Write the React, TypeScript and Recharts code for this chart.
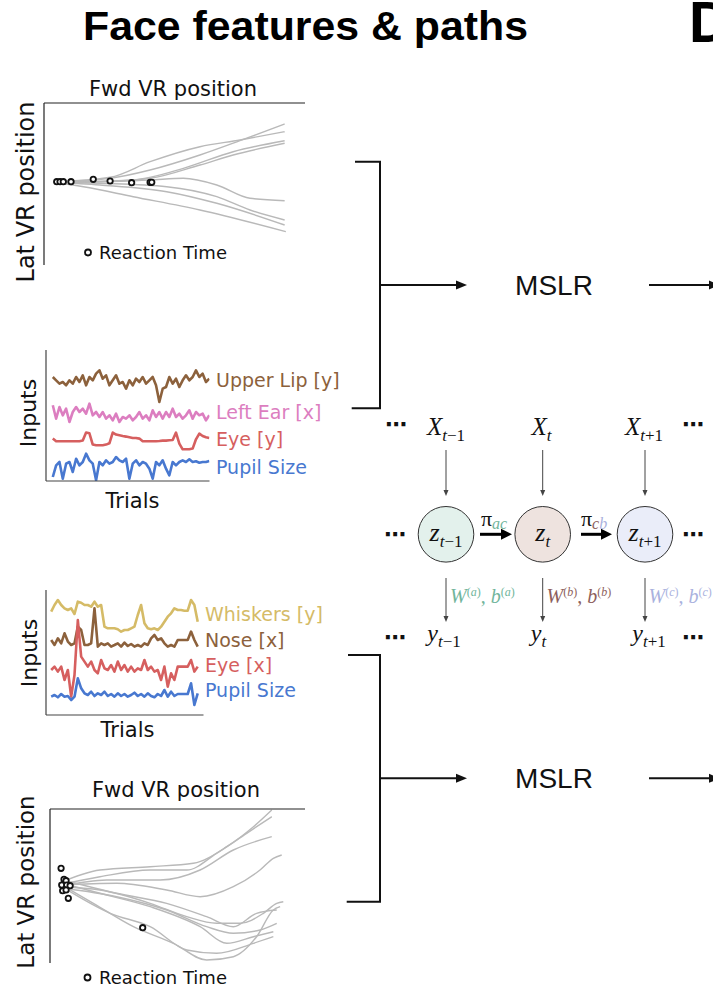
import React from "react";
import { ComposedChart, LineChart, Line, Scatter, XAxis, YAxis } from "recharts";

// ---- top path plot: fwd position (0-100) vs lateral offset ----
const topPath1 = [[0, 0], [24.4, 3.7], [41.5, 12], [62.8, 27], [79.9, 41.3], [99, 58]];
const topPath2 = [[0, 0], [24.4, 4.7], [41.5, 20.3], [62.8, 35.3], [79.9, 42], [99, 50.3]];
const topPath3 = [[0, 0], [20, 0.5], [34.3, 2], [55.7, 13.7], [77, 30.3], [99, 41.3]];
const topPath4 = [[0, 0], [20, 0.5], [41.5, 3.7], [62.8, 17], [77, 27], [99, 38.7]];
const topPath5 = [[0, 0], [20, 0.3], [41.5, 2], [55.7, 3.7], [70, -3], [84.2, -16.3], [99, -18.7]];
const topPath6 = [[0, 0], [20.1, -1.3], [48.6, -4.7], [70, -14.7], [84.2, -28], [99, -38]];
const topPath7 = [[0, 0], [20.1, -3], [48.6, -9.7], [70, -21.3], [99, -43]];
const topPath8 = [[0, 0], [13, -4.7], [34.3, -14.7], [62.8, -28], [99.5, -49.7]];
const topRtX = [1.6, 3.0, 4.4, 7.7, 17.2, 24.4, 33.6, 41.5, 42.2];
const topRtY = [0.3, 0.3, 0.3, 0.3, 2.7, 1, -0.7, -0.3, -0.3];

// ---- bottom path plot ----
const botPath1 = [[0.6, 1.7], [19, 15], [41.2, 18.3], [60.3, 21.7], [75.1, 38.3], [86.9, 58.3], [95, 75]];
const botPath2 = [[0.6, 0], [19, 8.3], [41.2, 15], [57.4, 15], [70.6, 31.7], [83.9, 51.7], [95, 68.3]];
const botPath3 = [[1.3, -1.7], [22, 5], [45.6, 5], [63.3, 15], [78, 35], [95, 48.3]];
const botPath4 = [[1.3, 0], [26.4, 1.7], [48.5, -5], [63.3, -11.7], [78, -1.7], [89.8, 15], [95.7, 26.7], [99.4, 30]];
const botPath5 = [[2.1, -1.7], [19, -5], [41.2, -18.3], [57.4, -31.7], [70.6, -38.3], [81, -38.3], [91.3, -28.3], [97.2, -18.3], [100.1, -16.7]];
const botPath6 = [[2.8, -3.3], [26.4, -11.7], [48.5, -25], [66.2, -41.7], [78, -48.3], [89.8, -45], [97.2, -38.3]];
const botPath7 = [[2.1, 1.7], [19, -8.3], [41.2, -21.7], [63.3, -41.7], [75.1, -58.3], [86.9, -51.7], [95.7, -46.7]];
const botPath8 = [[2.1, 0], [16.1, -18.3], [33.8, -41.7], [51.5, -58.3], [66.2, -75], [78, -71.7], [88.3, -51.7], [95.7, -25], [98.7, -21.7]];
const botPath9 = [[2.1, -1.7], [23.5, -28.3], [41.2, -41.7], [57.4, -65], [70.6, -68.3], [86.9, -58.3], [95.7, -51.7]];
const botPath10 = [[2.8, 5], [26.4, -8.3], [48.5, -18.3], [66.2, -31.7], [78, -41.7], [88.3, -28.3], [97.2, -25]];
const botRtX = [1.8, 3.1, 4.0, 2.1, 4.3, 5.8, 2.5, 4.0, 5.0, 37.9];
const botRtY = [16.7, 5.7, 4.3, 0, 0, -0.7, -5.7, -5, -13.3, -42.7];

// ---- top input traces (a.u.) ----
const upperLipY = [5, 1.7, -1.7, 0, -3.3, 1.7, -1.7, 5, 0, 6.7, -3.3, 5, 1.7, 8.3, 11.7, 3.3, 6.7, -3.3, 1.7, 6.7, -1.7, 0, -6.7, 1.7, -3.3, 3.3, 0, 5, -1.7, 1.7, 5, -3.3, -20, -6.7, -5, 5, -1.7, 3.3, -5, 1.7, 6.7, 1.7, 5, 11.7, 5, 8.3, 0, 3.3];
const leftEarX = [6.7, -6.7, 5, -3.3, 3.3, -10, 0, 5, 0, 3.3, -1.7, 8.3, -3.3, 0, -5, 0, -6.7, -3.3, -8.3, -1.7, -10, -5, -6.7, -3.3, -8.3, -5, 0, -6.7, -3.3, -8.3, 1.7, -5, 0, -6.7, 0, -5, 3.3, -5, -1.7, -6.7, -3.3, 1.7, -6.7, 0, -3.3, -1.7, -8.3, -3.3];
const eyeY = [2.7, 0, 0, 0, 0, 0, 0, 0, 0, 0.7, 8.7, 8, -3.3, -4, -4, -4, -3.3, -2, 8.7, 6.7, 6, 5.3, 4.7, 4, 3.3, 3.3, 2.7, 0, 0, 0, 0, 0, 0.3, 0.7, 0.7, 1, 1.3, 8.7, -2.3, -8, -8, -8, -7.3, 2, 7.7, 5.3, 4, 3.3];
const pupilTop = [-15, -3.3, 0, -16.7, -1.7, 0, -10, 3.3, -3.3, 0, 8.3, 1.7, -1.7, -18.3, 0, -3.3, 1.7, -1.7, 0, 5, 1.7, 0, 3.3, -16.7, -1.7, 1.7, -3.3, 0, -1.7, -6.7, -16.7, 0, -3.3, 1.7, -6.7, -13.3, 0, -3.3, 0, 1.7, 0, 2.7, 0, 0.7, -0.7, 0, 0, 1];

// ---- bottom input traces (a.u.) ----
const whiskersY = [3.3, 10, 15, 10, 6.7, 5, 6.7, 1, 13.3, 12.3, 10, 10, 8.3, 13.3, 8.3, 10, -11.7, -13.3, -13.3, -13.3, -14.3, -16.7, -15, -15, -13.3, -11.7, 0, 10, -8.3, -13.3, -14.3, -13.3, -15, -11.7, -6.7, -1.7, 1.7, 6.7, 5, 5, 4.3, 4.3, 15, 10, -6.7];
const noseX = [3.3, -1.7, 5, 0, 10, 1.7, -1.7, 0, 16.7, 13.3, -1.7, -1.7, 0, 35, -3.3, 0, -1.7, 0, -3.3, -1.7, 0, -3.3, 0.7, -2.7, -0.7, -3.3, -1.7, -3.3, 0, -1.7, 5, 8.3, 3.3, 5, 0, -3.3, -1.7, -3.3, 3.3, 3.3, 3.3, 3.3, 11.7, 3.3, -3.3];
const eyeX = [-1.7, 1.7, -3.3, 1.7, -11.7, -1.7, -28.3, -6.7, 48.3, 11.7, 6.7, 1.7, 6.7, -1.7, -5, 8.3, 0, -1.7, 3.3, -3.3, 6.7, -1.7, 3.3, -3.3, 1.7, -3.3, 0, -1.7, 8.3, -1.7, 1.7, -3.3, -1.7, -11.7, 1.7, -18.3, -5, -11.7, 1.7, 1.7, 1.7, 1.7, 8.3, -3.3, 1.7];
const pupilBottom = [-0.7, 1, -1.3, 2, -0.7, 0, -4, -0.7, 17.7, 7.7, 2.7, 1, 4.3, 0, 2.7, 1, 4.3, 0, 2, -0.7, 2.7, 0, 2, -0.7, 1, 3.3, 0, 2, -0.7, 2.7, 0, -1.3, 2, 0, 6, -0.7, 4.3, 0, 2, 2, 2, 2, 12.7, -9, 2.7];

const topInputNames = ["Upper Lip [y]", "Left Ear [x]", "Eye [y]", "Pupil Size"];
const botInputNames = ["Whiskers [y]", "Nose [x]", "Eye [x]", "Pupil Size"];

const BROWN = "#8c613c";
const PINK = "#dc7ec0";
const RED = "#d65f5f";
const BLUE = "#4878d0";
const YELLOW = "#d5bb67";
const SANS = "DejaVu Sans, Verdana, sans-serif";
const SERIF = "Liberation Serif, Times New Roman, serif";
const TEAL = "#72b59c";
const MAUVE = "#8e5f5c";
const LAV = "#aab2de";
const PAD = 4;

type Box = { left: number; top: number; w: number; h: number };

function PathPlot({ paths, rtX, rtY, box, xDomain, yDomain }: { paths: number[][][]; rtX: number[]; rtY: number[]; box: Box; xDomain: number[]; yDomain: number[] }) {
    const rt = rtX.map((x, i) => ({ x, y: rtY[i] }));
    const axis = { stroke: "#222", strokeWidth: 1.2 };
    return (
        <div style={{ position: "absolute", left: box.left - PAD, top: box.top - PAD }}>
            <ComposedChart width={box.w + 2 * PAD} height={box.h + 2 * PAD} margin={{ top: PAD - 1, right: PAD, bottom: PAD, left: PAD - 1 }}>
                <XAxis type="number" dataKey="x" orientation="top" domain={xDomain} allowDataOverflow tick={false} tickLine={false} height={1} axisLine={axis} />
                <YAxis type="number" dataKey="y" domain={yDomain} allowDataOverflow tick={false} tickLine={false} width={1} axisLine={axis} />
                {paths.map((p, i) => (
                    <Line key={i} data={p.map(([x, y]) => ({ x, y }))} dataKey="y" type="monotone" stroke="#b9b9b9" strokeWidth={1.4} dot={false} isAnimationActive={false} />
                ))}
                <Scatter
                    data={rt}
                    isAnimationActive={false}
                    shape={(props: any) => <circle cx={props.cx} cy={props.cy} r={2.7} fill="#fff" stroke="#111" strokeWidth={1.8} />}
                />
            </ComposedChart>
        </div>
    );
}

function InputPlot({ traces, box, xDomain, yDomain }: { traces: { values: number[]; offset: number; color: string }[]; box: Box; xDomain: number[]; yDomain: number[] }) {
    // stack traces with their vertical offsets
    const rows = traces[0].values.map((_, i) => {
        const row: Record<string, number> = { i };
        traces.forEach((t, k) => (row["s" + k] = t.values[i] + t.offset));
        return row;
    });
    const axis = { stroke: "#444", strokeWidth: 1.2 };
    return (
        <div style={{ position: "absolute", left: box.left - PAD, top: box.top - PAD }}>
            <LineChart width={box.w + 2 * PAD} height={box.h + 2 * PAD} data={rows} margin={{ top: PAD, right: PAD, bottom: PAD - 1, left: PAD - 1 }}>
                <XAxis type="number" dataKey="i" domain={xDomain} allowDataOverflow tick={false} tickLine={false} height={1} axisLine={axis} />
                <YAxis type="number" domain={yDomain} allowDataOverflow tick={false} tickLine={false} width={1} axisLine={axis} />
                {traces.map((t, k) => (
                    <Line key={k} dataKey={"s" + k} type="linear" stroke={t.color} strokeWidth={2.6} strokeLinejoin="round" dot={false} isAnimationActive={false} />
                ))}
            </LineChart>
        </div>
    );
}

function Bracket({ top, bottom, x, x0, x1, arrowY }: { top: number; bottom: number; x: number; x0: number; x1: number; arrowY: number }) {
    return (
        <g stroke="#111" fill="none" strokeWidth={2}>
            <path d={`M${x0},${top} H${x} V${bottom} H${x1}`} />
            <line x1={x} y1={arrowY} x2={460} y2={arrowY} />
            <polygon points={`467,${arrowY} 456,${arrowY - 4.5} 456,${arrowY + 4.5}`} fill="#111" stroke="none" />
            <line x1={649} y1={arrowY} x2={712} y2={arrowY} />
            <polygon points={`720,${arrowY} 709,${arrowY - 4.5} 709,${arrowY + 4.5}`} fill="#111" stroke="none" />
            <text x={554} y={arrowY + 10} textAnchor="middle" fontFamily="Liberation Sans, Arial, sans-serif" fontSize={28} fill="#111" stroke="none">MSLR</text>
        </g>
    );
}

function Dots({ x, y }: { x: number; y: number }) {
    return <text x={x} y={y + 7} textAnchor="middle" fontFamily={SANS} fontWeight={700} fontSize={22} fill="#111">⋯</text>;
}

function Sub({ x, y, base, sub, size, subSize }: { x: number; y: number; base: string; sub: string; size: number; subSize: number }) {
    const rest = sub.slice(1).replace("-", "−");
    return (
        <text x={x} y={y} textAnchor="middle" fontFamily={SERIF} fontSize={size} fill="#111">
            <tspan fontStyle="italic">{base}</tspan>
            <tspan dy={subSize * 0.33} fontSize={subSize} fontStyle="italic">{sub[0]}</tspan>
            {rest && <tspan fontSize={subSize}>{rest}</tspan>}
        </text>
    );
}

function WLabel({ x, y, s, color }: { x: number; y: number; s: string; color: string }) {
    return (
        <text x={x} y={y} fontFamily={SERIF} fontSize={20} fill={color}>
            <tspan fontStyle="italic">W</tspan>
            <tspan dy={-7} fontSize={12}>(</tspan>
            <tspan fontSize={12} fontStyle="italic">{s}</tspan>
            <tspan fontSize={12}>)</tspan>
            <tspan dy={7} fontSize={20}>, </tspan>
            <tspan fontStyle="italic" fontSize={20}>b</tspan>
            <tspan dy={-7} fontSize={12}>(</tspan>
            <tspan fontSize={12} fontStyle="italic">{s}</tspan>
            <tspan fontSize={12}>)</tspan>
        </text>
    );
}

export default function App() {
    const topTraces = [
        { values: upperLipY, offset: 99, color: BROWN },
        { values: leftEarX, offset: 69, color: PINK },
        { values: eyeY, offset: 39.7, color: RED },
        { values: pupilTop, offset: 19, color: BLUE },
    ];
    const botTraces = [
        { values: whiskersY, offset: 100, color: YELLOW },
        { values: noseX, offset: 71.7, color: BROWN },
        { values: eyeX, offset: 46.7, color: RED },
        { values: pupilBottom, offset: 19, color: BLUE },
    ];
    const topColors = [BROWN, PINK, RED, BLUE];
    const botColors = [YELLOW, BROWN, RED, BLUE];
    const topLabelY = [387, 419, 445.5, 474];
    const botLabelY = [620.5, 647, 672, 697];
    const colX = [446, 542.7, 645];

    return (
        <div style={{ position: "absolute", left: 0, top: 0, width: 713, height: 986, overflow: "hidden", background: "#fff" }}>
            <PathPlot
                paths={[topPath1, topPath2, topPath3, topPath4, topPath5, topPath6, topPath7, topPath8]}
                rtX={topRtX}
                rtY={topRtY}
                box={{ left: 44, top: 103, w: 261, h: 162 }}
                xDomain={[-3.85, 107.7]}
                yDomain={[-83, 79]}
            />
            <PathPlot
                paths={[botPath1, botPath2, botPath3, botPath4, botPath5, botPath6, botPath7, botPath8, botPath9, botPath10]}
                rtX={botRtX}
                rtY={botRtY}
                box={{ left: 50, top: 809, w: 255, h: 154 }}
                xDomain={[-3.1, 109.7]}
                yDomain={[-78, 76]}
            />
            <InputPlot traces={topTraces} box={{ left: 45.5, top: 350, w: 163.5, h: 131 }} xDomain={[-2.04, 47.06]} yDomain={[0, 131]} />
            <InputPlot traces={botTraces} box={{ left: 45.5, top: 590, w: 157.5, h: 125 }} xDomain={[-1.56, 45.74]} yDomain={[0, 125]} />

            <svg width={713} height={986} style={{ position: "absolute", left: 0, top: 0, pointerEvents: "none" }}>
                <text x={83} y={40} fontFamily="Liberation Sans, Arial, sans-serif" fontWeight={700} fontSize={40} textLength={445} lengthAdjust="spacingAndGlyphs" fill="#000">
                    {"Face features & paths"}
                </text>
                <text x={689} y={42} fontFamily="Liberation Sans, Arial, sans-serif" fontWeight={700} fontSize={57} fill="#000">D</text>

                {/* path plot labels */}
                <text x={173} y={96} textAnchor="middle" fontFamily={SANS} fontSize={21} fill="#111">Fwd VR position</text>
                <text transform="translate(34,192) rotate(-90)" textAnchor="middle" fontFamily={SANS} fontSize={24} fill="#111">Lat VR position</text>
                <circle cx={88} cy={252.5} r={3} fill="#fff" stroke="#111" strokeWidth={1.8} />
                <text x={99} y={258.5} fontFamily={SANS} fontSize={18} fill="#111">Reaction Time</text>

                <text x={176} y={797} textAnchor="middle" fontFamily={SANS} fontSize={21} fill="#111">Fwd VR position</text>
                <text transform="translate(34,882) rotate(-90)" textAnchor="middle" fontFamily={SANS} fontSize={23} fill="#111">Lat VR position</text>
                <circle cx={87.5} cy={977.5} r={3} fill="#fff" stroke="#111" strokeWidth={1.8} />
                <text x={99} y={983.5} fontFamily={SANS} fontSize={18} fill="#111">Reaction Time</text>

                {/* input plot labels */}
                <text transform="translate(36,413) rotate(-90)" textAnchor="middle" fontFamily={SANS} fontSize={22} fill="#111">Inputs</text>
                <text x={132.5} y={508} textAnchor="middle" fontFamily={SANS} fontSize={21} fill="#111">Trials</text>
                {topInputNames.map((n, i) => (
                    <text key={n} x={216} y={topLabelY[i]} fontFamily={SANS} fontSize={19} fill={topColors[i]}>{n}</text>
                ))}
                <text transform="translate(37,653) rotate(-90)" textAnchor="middle" fontFamily={SANS} fontSize={22} fill="#111">Inputs</text>
                <text x={127.5} y={737} textAnchor="middle" fontFamily={SANS} fontSize={21} fill="#111">Trials</text>
                {botInputNames.map((n, i) => (
                    <text key={n} x={205} y={botLabelY[i]} fontFamily={SANS} fontSize={19} fill={botColors[i]}>{n}</text>
                ))}

                {/* MSLR brackets */}
                <Bracket top={161.7} bottom={408.3} x={380} x0={355} x1={351.7} arrowY={285} />
                <Bracket top={655} bottom={901.7} x={380} x0={348} x1={346.7} arrowY={778.3} />

                {/* graphical model */}
                <Dots x={396} y={425} />
                <Dots x={693} y={425} />
                <Sub x={446} y={435} base="X" sub="t-1" size={25} subSize={17} />
                <Sub x={541.5} y={435} base="X" sub="t" size={25} subSize={17} />
                <Sub x={644} y={435} base="X" sub="t+1" size={25} subSize={17} />
                {colX.map((x) => (
                    <g key={"in" + x}>
                        <line x1={x} y1={450} x2={x} y2={492} stroke="#444" strokeWidth={1} />
                        <polygon points={`${x},${496} ${x - 2.5},${490} ${x + 2.5},${490}`} fill="#444" />
                        <line x1={x} y1={578} x2={x} y2={618} stroke="#444" strokeWidth={1} />
                        <polygon points={`${x},${622} ${x - 2.5},${616} ${x + 2.5},${616}`} fill="#444" />
                    </g>
                ))}
                <Dots x={395} y={535} />
                <Dots x={693} y={535} />
                <circle cx={446} cy={534.3} r={27.8} fill="#e3f1ec" stroke="#333" strokeWidth={1} />
                <circle cx={542.7} cy={534.3} r={27.8} fill="#eee3df" stroke="#333" strokeWidth={1} />
                <circle cx={645} cy={534.3} r={27.8} fill="#eaedf9" stroke="#333" strokeWidth={1} />
                <Sub x={446} y={541} base="z" sub="t-1" size={26} subSize={17} />
                <Sub x={542.7} y={541} base="z" sub="t" size={26} subSize={17} />
                <Sub x={645} y={541} base="z" sub="t+1" size={26} subSize={17} />
                <line x1={480} y1={534.3} x2={503} y2={534.3} stroke="#000" strokeWidth={3} />
                <polygon points="512,534.3 501,528.8 501,539.8" fill="#000" />
                <line x1={581} y1={534.3} x2={603} y2={534.3} stroke="#000" strokeWidth={3} />
                <polygon points="612,534.3 601,528.8 601,539.8" fill="#000" />
                <text x={481} y={526} fontFamily={SERIF} fontSize={22} fill="#111">
                    π<tspan dy={3} fontSize={16} fontStyle="italic" fill={TEAL}>ac</tspan>
                </text>
                <text x={581} y={526} fontFamily={SERIF} fontSize={22} fill="#111">
                    π<tspan dy={3} fontSize={16} fontStyle="italic" fill={MAUVE}>c</tspan>
                    <tspan fontSize={16} fontStyle="italic" fill={LAV}>b</tspan>
                </text>
                <WLabel x={450} y={603} s="a" color={TEAL} />
                <WLabel x={546.5} y={603} s="b" color={MAUVE} />
                <WLabel x={648.5} y={603} s="c" color={LAV} />
                <Dots x={395} y={638} />
                <Dots x={693} y={638} />
                <Sub x={444} y={641} base="y" sub="t-1" size={24} subSize={17} />
                <Sub x={538.5} y={641} base="y" sub="t" size={24} subSize={17} />
                <Sub x={649} y={641} base="y" sub="t+1" size={24} subSize={17} />
            </svg>
        </div>
    );
}
